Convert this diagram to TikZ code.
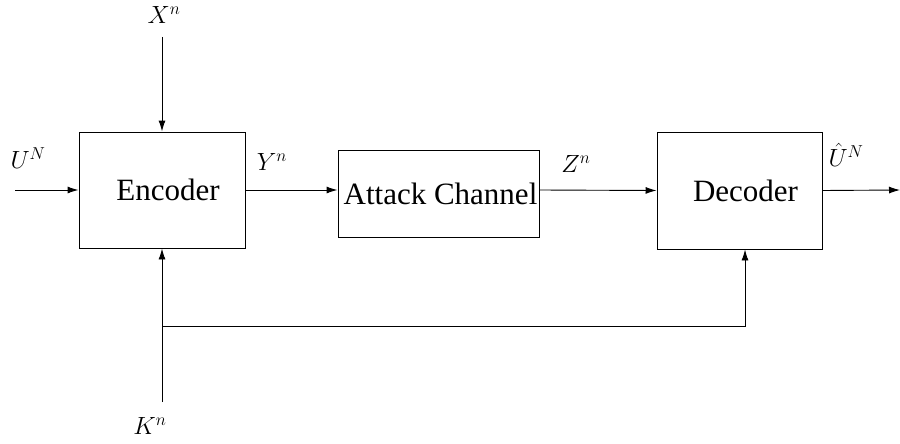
\documentclass[tikz,border=0pt]{standalone}
\usepackage{amsmath}
\usepackage{fontspec}
\setmainfont{Liberation Serif}
\usepackage{tikz}
\usetikzlibrary{arrows.meta}

\tikzset{
  block/.style={draw,line width=0.9pt,inner sep=0pt,font=\fontsize{31}{36}\selectfont},
  arr/.style={line width=0.9pt,-{Latex[length=11pt,width=7pt]}},
  lbl/.style={font=\fontsize{26}{30}\selectfont}
}

\begin{document}
\begin{tikzpicture}[x=1pt,y=-1pt]
\useasboundingbox (0,0) rectangle (900,444);
\node[block,minimum width=166pt,minimum height=116pt] (enc) at (162,190) {\hspace{12pt}Encoder};
\node[block,minimum width=201pt,minimum height=87pt] (att) at (438.5,193.5) {\hspace{4pt}Attack Channel};
\node[block,minimum width=165pt,minimum height=117pt] (dec) at (739.5,190.5) {\hspace{12pt}Decoder};
\coordinate (xin) at (162,37);
\coordinate (uin) at (15,190);
\coordinate (out) at (900,190);
\coordinate (kin) at (162,402);
\coordinate (br) at (162,326);
\draw[arr] (xin) -- (enc.north);
\draw[arr] (uin) -- (enc.west);
\draw[arr] (enc.east) -- (enc.east -| att.west);
\draw[arr] (enc.east -| att.east) -- (dec.west);
\draw[arr] (dec.east) -- (out);
\draw[arr] (kin) -- (enc.south);
\draw[arr] (br) -| (dec.south -| 745,0);
\node[lbl] (xl) at (164,15) {$X^n$};
\node[lbl] (ul) at (28,158) {$U^N$};
\node[lbl] (yl) at (272,162) {$Y^n$};
\node[lbl] (zl) at (576,164) {$Z^n$};
\node[lbl] (uhl) at (846,155) {$\hat{U}^N$};
\node[lbl] (kl) at (150,426) {$K^n$};
\end{tikzpicture}
\end{document}
